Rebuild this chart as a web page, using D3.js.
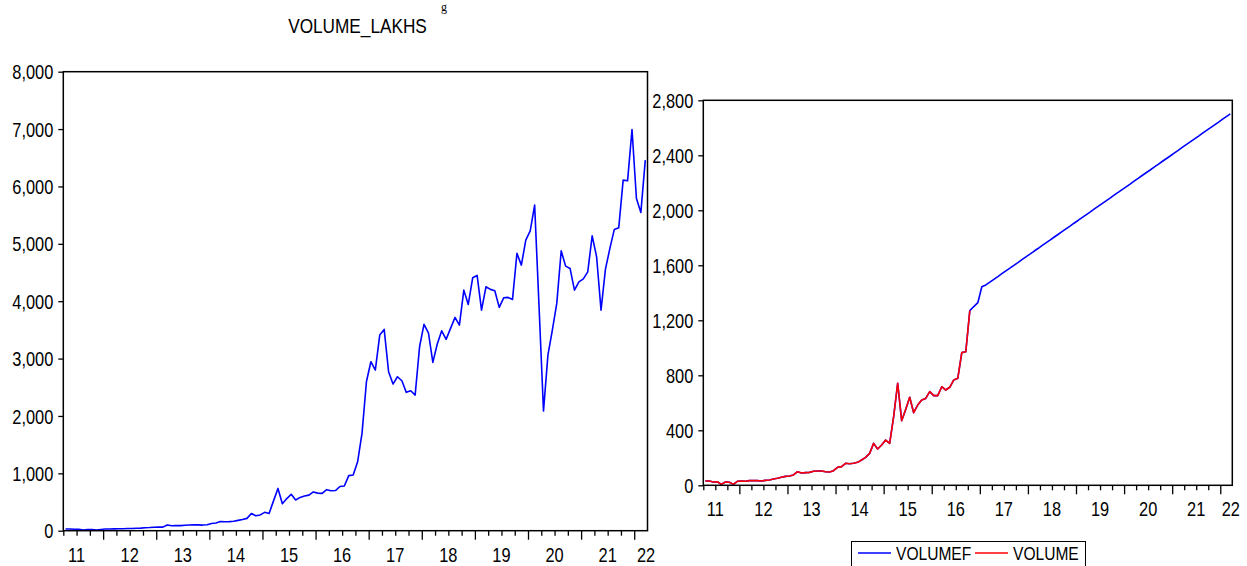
<!DOCTYPE html>
<html><head><meta charset="utf-8">
<script src="https://cdn.jsdelivr.net/npm/d3@7"></script>
<style>
html,body{margin:0;padding:0;background:#fff;}
svg{display:block;}
text{font-family:"Liberation Sans Narrow","Arial Narrow","Liberation Sans",Arial,sans-serif;fill:#000;}
</style></head>
<body>
<svg id="chart" width="1247" height="566"></svg>
<script>
// ---- data (monthly, April 2011 .. March 2022) ----
const startYear = 2011, startMonth = 4; // April
const yearLabels = ["11","12","13","14","15","16","17","18","19","20","21","22"];

const volumeLakhs = [
  30,30,25,25,10,20,18,10,22,30,
  30,32,35,35,38,38,42,45,52,55,
  60,65,62,100,85,88,88,95,100,105,
  102,98,105,125,135,160,155,158,165,180,
  195,215,300,260,275,320,300,520,737,470,
  560,635,535,580,605,620,675,655,650,715,
  695,700,770,780,960,970,1200,1700,2600,2945,
  2800,3409,3508,2770,2556,2683,2613,2411,2439,2364,
  3206,3596,3450,2934,3253,3484,3334,3526,3717,3584,
  4193,3944,4408,4449,3845,4251,4206,4181,3892,4059,
  4066,4031,4833,4629,5064,5226,5674,3900,2085,3061,
  3497,3962,4878,4611,4571,4193,4338,4390,4512,5139,
  4774,3845,4559,4920,5251,5279,6110,6098,6993,5791,
  5547,6458
];

const volume = [
  31,31,24,26,7,24,22,7,29,31,
  29,34,34,34,31,36,39,46,51,58,
  65,68,75,99,89,92,94,102,104,104,
  99,97,106,131,136,160,157,160,167,184,
  203,232,305,264,293,329,305,499,742,470,
  552,640,528,584,620,632,681,652,652,717,
  693,713,766,778,965,971,1270
];

const forecastTail = [
  1300,1328,1444,1457,1477,1498,1518,1539,1559,1579,
  1600,1620,1641,1661,1681,1702,1722,1743,1763,1783,
  1804,1824,1845,1865,1885,1906,1926,1947,1967,1987,
  2008,2028,2049,2069,2089,2110,2130,2151,2171,2191,
  2212,2232,2253,2273,2293,2314,2334,2355,2375,2395,
  2416,2436,2457,2477,2497,2518,2538,2559,2579,2599,
  2620,2640,2661,2681,2701
];
const volumeF = volume.concat(forecastTail);

const leftTicks = [0,1000,2000,3000,4000,5000,6000,7000,8000];
const rightTicks = [0,400,800,1200,1600,2000,2400,2800];
const legendNames = ["VOLUMEF","VOLUME"];
const colors = {VOLUMEF:"#0000ff", VOLUME:"#ff0000"};

// ---- drawing ----
const svg = d3.select("#chart");
const N = volumeLakhs.length;
const SQUEEZE = 0.82;

// horizontally condense text (narrow face substitute), keeping anchor point
function condense(sel) {
  sel.each(function() {
    const t = d3.select(this);
    const x = +(t.attr("x") || 0), y = +(t.attr("y") || 0);
    t.attr("x", 0).attr("y", 0)
     .attr("transform", `translate(${x},${y}) scale(${SQUEEZE},1)`);
  });
}

// partially visible heading at very top
svg.append("text").attr("x",441).attr("y",11)
  .style("font-family",'"Liberation Serif","Times New Roman",serif')
  .style("font-size","12px").text("g");

svg.append("text").attr("x",357.5).attr("y",33)
  .attr("text-anchor","middle").style("font-size","21px").text("VOLUME_LAKHS")
  .call(condense);

function panel(box, yMax, yTicks, series) {
  const x = d3.scaleLinear().domain([0, N]).range([box.x0, box.x1]);
  const y = d3.scaleLinear().domain([0, yMax]).range([box.y1, box.y0]);
  const g = svg.append("g");

  // y axis
  const ya = g.append("g").attr("transform",`translate(${box.x0},0)`)
    .call(d3.axisLeft(y).tickValues(yTicks).tickSize(5).tickPadding(5).tickFormat(d3.format(",")));
  ya.select(".domain").remove();
  ya.selectAll("line").attr("stroke","#000").attr("stroke-width",1.3);
  ya.selectAll("text").style("font-size","20px").style("font-family",null)
    .attr("fill","#000").attr("dy",null).attr("dominant-baseline","central")
    .call(condense);

  // x axis ticks: quarters (minor), years (major)
  const idx = d3.range(0, N);
  const minor = idx.filter(i => (startMonth - 1 + i) % 3 === 0 && (startMonth - 1 + i) % 12 !== 0);
  const major = idx.filter(i => (startMonth - 1 + i) % 12 === 0);
  const xMinor = g.append("g").attr("transform",`translate(0,${box.y1})`)
    .call(d3.axisBottom(x).tickValues(minor).tickSize(5).tickFormat(""));
  xMinor.select(".domain").remove();
  const xMajor = g.append("g").attr("transform",`translate(0,${box.y1})`)
    .call(d3.axisBottom(x).tickValues(major).tickSize(9).tickFormat(""));
  xMajor.select(".domain").remove();
  g.selectAll(".tick line").attr("stroke","#000").attr("stroke-width",1.3);

  // year labels
  yearLabels.forEach((lab) => {
    const yr = 2000 + (+lab);
    const startIdx = (yr - startYear) * 12 - (startMonth - 1);
    let cx = x(startIdx + 6);
    cx = Math.min(cx, box.x1 - 1.5);
    g.append("text").attr("x", cx).attr("y", box.y1 + 31)
      .attr("text-anchor","middle").style("font-size","20px").text(lab)
      .call(condense);
  });

  // lines
  series.forEach(s => {
    const line = d3.line().x((d,i) => x(i + 0.5)).y(d => y(d));
    g.append("path").datum(s.values).attr("d", line)
      .attr("fill","none").attr("stroke", s.color).attr("stroke-width",1.6)
      .attr("stroke-linejoin","round");
  });

  // frame
  g.append("rect").attr("x",box.x0).attr("y",box.y0)
    .attr("width",box.x1-box.x0).attr("height",box.y1-box.y0)
    .attr("fill","none").attr("stroke","#000").attr("stroke-width",1.5);
}

panel({x0:63.3, x1:647.5, y0:71.7, y1:530.7}, 8000, leftTicks,
  [{values: volumeLakhs, color: "#0000ff"}]);

panel({x0:703.3, x1:1232.3, y0:100.3, y1:485.3}, 2800, rightTicks,
  [{values: volumeF, color: colors.VOLUMEF}, {values: volume, color: colors.VOLUME}]);

// legend
const lg = svg.append("g");
lg.append("rect").attr("x",851.5).attr("y",541.5).attr("width",234).attr("height",30)
  .attr("fill","#fff").attr("stroke","#000").attr("stroke-width",1);
const legendX = [858, 975];
legendNames.forEach((name, k) => {
  lg.append("line").attr("x1",legendX[k]).attr("x2",legendX[k]+33)
    .attr("y1",553).attr("y2",553).attr("stroke",colors[name]).attr("stroke-width",1.6);
  lg.append("text").attr("x",legendX[k]+38).attr("y",560)
    .style("font-size","19px").text(name).call(condense);
});
</script>
</body></html>
